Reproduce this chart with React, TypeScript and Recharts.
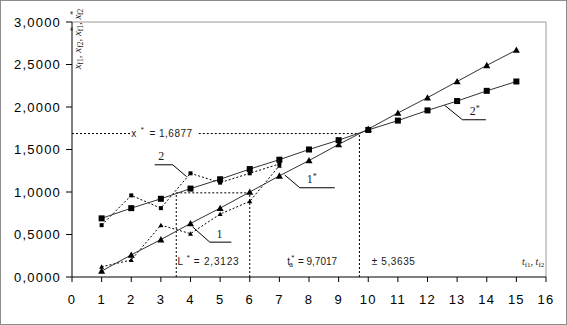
import React from "react";
import {
  LineChart,
  Line,
  XAxis,
  YAxis,
  ReferenceLine,
  ReferenceDot,
} from "recharts";

// time points
const xValues = [1, 2, 3, 4, 5, 6, 7, 8, 9, 10, 11, 12, 13, 14, 15];
// fitted lines 1* (triangles) and 2* (squares)
const fitted1 = [0.07, 0.26, 0.44, 0.63, 0.81, 1.0, 1.19, 1.37, 1.56, 1.74, 1.93, 2.11, 2.3, 2.49, 2.67];
const fitted2 = [0.69, 0.81, 0.92, 1.04, 1.15, 1.27, 1.38, 1.5, 1.61, 1.73, 1.84, 1.96, 2.07, 2.19, 2.3];
// observed curves 1 and 2 (dotted, first seven points)
const observed1 = [0.12, 0.2, 0.61, 0.51, 0.74, 0.89, 1.31];
const observed2 = [0.61, 0.96, 0.81, 1.22, 1.11, 1.22, 1.33];

const xTicks = [0, 1, 2, 3, 4, 5, 6, 7, 8, 9, 10, 11, 12, 13, 14, 15, 16];
const yTicks = [0, 0.5, 1, 1.5, 2, 2.5, 3];

const xStar = 1.6877;
const tStar = 9.7017;
const lLeft = 3.52;
const lRight = 6.0;
const lLevel = 0.99;

const data = xValues.map((x, i) => ({
  x,
  f1: fitted1[i],
  f2: fitted2[i],
  o1: observed1[i],
  o2: observed2[i],
}));

const fmt = (v: number) => v.toFixed(4).replace(".", ",");

const triangle = (s: number) => (p: any) => {
  const { cx, cy, index } = p;
  if (cx == null || cy == null || isNaN(cy)) return <g key={"t" + index} />;
  return (
    <path
      key={"t" + index}
      d={`M${cx},${cy - s}L${cx + s},${cy + s * 0.8}L${cx - s},${cy + s * 0.8}Z`}
      fill="#000"
    />
  );
};

const square = (s: number) => (p: any) => {
  const { cx, cy, index } = p;
  if (cx == null || cy == null || isNaN(cy)) return <g key={"s" + index} />;
  return <rect key={"s" + index} x={cx - s} y={cy - s} width={s * 2} height={s * 2} fill="#000" />;
};

const sans = "'Liberation Sans', Arial, sans-serif";
const serif = "'Liberation Serif', 'Times New Roman', serif";

// text placed at a data point (via ReferenceDot label)
const Note = (props: any) => {
  const { viewBox, anchor = "start", size = 10, family = sans, spacing = 0, dx = 0, dy = 0, children } = props;
  const cx = viewBox.x + (viewBox.width || 0) / 2;
  const cy = viewBox.y + (viewBox.height || 0) / 2;
  return (
    <text
      x={cx + dx}
      y={cy + dy}
      textAnchor={anchor}
      fontSize={size}
      fontFamily={family}
      letterSpacing={spacing}
      fill="#1a1a1a"
    >
      {children}
    </text>
  );
};

const YTitle = (props: any) => {
  const { viewBox } = props;
  const cx = viewBox.x + (viewBox.width || 0) / 2;
  const cy = viewBox.y + (viewBox.height || 0) / 2;
  const sub = { fontSize: 7.5 };
  return (
    <text
      x={cx}
      y={cy}
      transform={`rotate(-90 ${cx} ${cy})`}
      textAnchor="middle"
      fontSize={11}
      fontFamily={serif}
      fill="#1a1a1a"
    >
      <tspan fontStyle="italic">x</tspan>
      <tspan {...sub} dy={2}>f1</tspan>
      <tspan dy={-2}>, </tspan>
      <tspan fontStyle="italic">x</tspan>
      <tspan {...sub} dy={2}>f2</tspan>
      <tspan dy={-2}>, </tspan>
      <tspan fontStyle="italic">x</tspan>
      <tspan {...sub} dy={-5}>*</tspan>
      <tspan {...sub} dx={-4} dy={7}>f1</tspan>
      <tspan dy={-2}>, </tspan>
      <tspan fontStyle="italic">x</tspan>
      <tspan {...sub} dy={-5}>*</tspan>
      <tspan {...sub} dx={-4} dy={7}>f2</tspan>
    </text>
  );
};

const dash = "2 2";
const tickStyle = { fill: "#000", fontSize: 13, letterSpacing: 1.2, fontFamily: sans };

export default function App() {
  return (
    <div
      style={{
        position: "absolute",
        left: 0,
        top: 0,
        width: 567,
        height: 325,
        border: "1px solid #8c8c8c",
        boxSizing: "border-box",
        background: "#fff",
      }}
    >
      <LineChart
        width={565}
        height={323}
        data={data}
        margin={{ top: 21, right: 20, left: 0, bottom: 0 }}
      >
        <XAxis
          dataKey="x"
          type="number"
          domain={[0, 16]}
          ticks={xTicks}
          interval={0}
          height={47}
          tickSize={5}
          tickMargin={13}
          axisLine={{ stroke: "#000" }}
          tickLine={{ stroke: "#000" }}
          tick={tickStyle}
        />
        <YAxis
          type="number"
          domain={[0, 3]}
          ticks={yTicks}
          width={71}
          tickSize={6}
          tickMargin={5}
          tickFormatter={fmt}
          axisLine={{ stroke: "#000" }}
          tickLine={{ stroke: "#000" }}
          tick={tickStyle}
        />
        {/* plot area frame */}
        <ReferenceLine y={3} stroke="#999" />
        <ReferenceLine x={16} stroke="#999" />

        {/* x* level and t* */}
        <ReferenceLine segment={[{ x: 0, y: xStar }, { x: 1.96, y: xStar }]} stroke="#000" strokeDasharray={dash} />
        <ReferenceLine segment={[{ x: 4.28, y: xStar }, { x: tStar, y: xStar }]} stroke="#000" strokeDasharray={dash} />
        <ReferenceLine segment={[{ x: tStar, y: 0 }, { x: tStar, y: xStar }]} stroke="#000" strokeDasharray={dash} />
        {/* L* box */}
        <ReferenceLine segment={[{ x: lLeft, y: lLevel }, { x: lRight, y: lLevel }]} stroke="#000" strokeDasharray={dash} />
        <ReferenceLine segment={[{ x: lLeft, y: 0 }, { x: lLeft, y: lLevel }]} stroke="#000" strokeDasharray={dash} />
        <ReferenceLine segment={[{ x: lRight, y: 0 }, { x: lRight, y: lLevel }]} stroke="#000" strokeDasharray={dash} />

        {/* leader lines for curve labels */}
        <ReferenceLine segment={[{ x: 2.79, y: 1.32 }, { x: 3.4, y: 1.32 }]} stroke="#000" />
        <ReferenceLine segment={[{ x: 3.4, y: 1.32 }, { x: 3.87, y: 1.18 }]} stroke="#000" />
        <ReferenceLine segment={[{ x: 4.07, y: 0.59 }, { x: 4.65, y: 0.41 }]} stroke="#000" />
        <ReferenceLine segment={[{ x: 4.65, y: 0.41 }, { x: 5.38, y: 0.41 }]} stroke="#000" />
        <ReferenceLine segment={[{ x: 7.18, y: 1.2 }, { x: 7.69, y: 1.05 }]} stroke="#000" />
        <ReferenceLine segment={[{ x: 7.69, y: 1.05 }, { x: 8.87, y: 1.05 }]} stroke="#000" />
        <ReferenceLine segment={[{ x: 12.58, y: 2.02 }, { x: 13.18, y: 1.85 }]} stroke="#000" />
        <ReferenceLine segment={[{ x: 13.18, y: 1.85 }, { x: 13.97, y: 1.85 }]} stroke="#000" />

        <Line dataKey="o1" stroke="#000" strokeDasharray={dash} strokeWidth={1} dot={triangle(2.5)} isAnimationActive={false} />
        <Line dataKey="o2" stroke="#000" strokeDasharray={dash} strokeWidth={1} dot={square(2)} isAnimationActive={false} />
        <Line dataKey="f1" stroke="#333" strokeWidth={1} dot={triangle(3.5)} isAnimationActive={false} />
        <Line dataKey="f2" stroke="#333" strokeWidth={1} dot={square(3)} isAnimationActive={false} />

        {/* annotations */}
        <ReferenceDot x={2.0} y={xStar} r={0} fill="none" stroke="none"
          label={<Note spacing={0.5}><tspan dy={3.5}>x</tspan><tspan dx={4} dy={-5} fontSize={8}>*</tspan><tspan dx={5} dy={5}>= 1,6877</tspan></Note>} />
        <ReferenceDot x={3.56} y={0.14} r={0} fill="none" stroke="none"
          label={<Note spacing={0.8}>L<tspan dx={3} dy={-5} fontSize={8}>*</tspan><tspan dx={3} dy={5}>= 2,3123</tspan></Note>} />
        <ReferenceDot x={7.27} y={0.14} r={0} fill="none" stroke="none"
          label={<Note>t<tspan dx={1} dy={-5} fontSize={8}>*</tspan><tspan dx={-5} dy={7} fontSize={6.5}>a</tspan><tspan dx={5} dy={-2}>= 9,7017</tspan></Note>} />
        <ReferenceDot x={10.12} y={0.14} r={0} fill="none" stroke="none"
          label={<Note spacing={0.6}>± 5,3635</Note>} />
        <ReferenceDot x={15.94} y={0.14} r={0} fill="none" stroke="none"
          label={<Note anchor="end" family={serif} size={10}><tspan fontStyle="italic">t</tspan><tspan dy={2} fontSize={7}>f1</tspan><tspan dy={-2}>, </tspan><tspan fontStyle="italic">t</tspan><tspan dy={2} fontSize={7}>f2</tspan></Note>} />
        <ReferenceDot x={0.32} y={2.8} r={0} fill="none" stroke="none" label={<YTitle />} />

        {/* curve labels */}
        <ReferenceDot x={3.01} y={1.38} r={0} fill="none" stroke="none"
          label={<Note anchor="middle" size={12} family={serif}>2</Note>} />
        <ReferenceDot x={4.98} y={0.46} r={0} fill="none" stroke="none"
          label={<Note anchor="middle" size={12} family={serif}>1</Note>} />
        <ReferenceDot x={8.06} y={1.11} r={0} fill="none" stroke="none"
          label={<Note anchor="end" size={12} family={serif} dx={2}>1</Note>} />
        <ReferenceDot x={8.06} y={1.11} r={0} fill="none" stroke="none"
          label={<Note anchor="start" size={8} family={serif} dx={2} dy={-4}>*</Note>} />
        <ReferenceDot x={13.56} y={1.91} r={0} fill="none" stroke="none"
          label={<Note anchor="end" size={12} family={serif} dx={2}>2</Note>} />
        <ReferenceDot x={13.56} y={1.91} r={0} fill="none" stroke="none"
          label={<Note anchor="start" size={8} family={serif} dx={2} dy={-4}>*</Note>} />
      </LineChart>
    </div>
  );
}
